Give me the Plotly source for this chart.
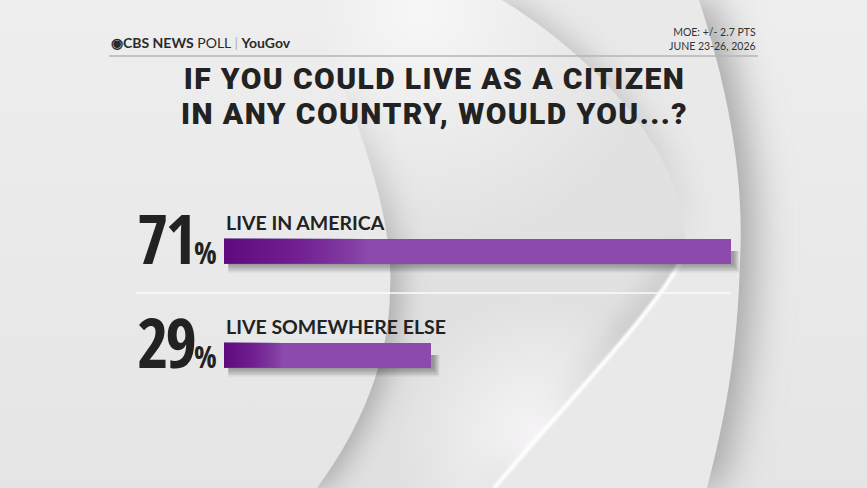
import base64
import plotly.graph_objects as go

# ---------------- data ----------------
categories = ["LIVE IN AMERICA", "LIVE SOMEWHERE ELSE"]
values = [71, 29]
pct_labels = ["71", "29"]
title_lines = ["IF YOU COULD LIVE AS A CITIZEN", "IN ANY COUNTRY, WOULD YOU...?"]
moe_text = "MOE: +/- 2.7 PTS"
date_text = "JUNE 23-26, 2026"

W, H = 867, 488

# ---------------- decorative background (CBS eye) ----------------
PA = "M0,0 L313,0 C345,100 395,200 390,290 C390,360 360,430 317,488 L0,488 Z"
PB = "M200,0 L502,0 C600,60 690,160 685,250 C675,290 560,410 494,488 L200,488 Z"
PC = "M0,0 L699,0 C725,80 745,170 740,260 C738,350 725,420 707,488 L0,488 Z"
PB_low = "M685,250 C675,290 560,410 494,488"

svg = f'''<svg xmlns="http://www.w3.org/2000/svg" width="{W}" height="{H}" viewBox="0 0 {W} {H}">
<defs>
<linearGradient id="bg" x1="0" y1="0" x2="0" y2="1">
 <stop offset="0" stop-color="#eeeeee"/><stop offset="1" stop-color="#e6e5e6"/>
</linearGradient>
<filter id="b14" x="-30%" y="-30%" width="160%" height="160%"><feGaussianBlur stdDeviation="14"/></filter>
<filter id="b20" x="-30%" y="-30%" width="160%" height="160%"><feGaussianBlur stdDeviation="20"/></filter>
<filter id="b2" x="-10%" y="-10%" width="120%" height="120%"><feGaussianBlur stdDeviation="1"/></filter>
<radialGradient id="glow" cx="540" cy="440" r="140" gradientUnits="userSpaceOnUse">
 <stop offset="0" stop-color="#f8f6f8" stop-opacity="1"/><stop offset="1" stop-color="#f8f6f8" stop-opacity="0"/>
</radialGradient>
<radialGradient id="topglow" cx="420" cy="10" r="240" gradientUnits="userSpaceOnUse">
 <stop offset="0" stop-color="#f7f7f7" stop-opacity="1"/><stop offset="1" stop-color="#f7f7f7" stop-opacity="0"/>
</radialGradient>
<linearGradient id="fadeDown" x1="0" y1="0" x2="0" y2="488" gradientUnits="userSpaceOnUse">
 <stop offset="0.15" stop-color="#fff" stop-opacity="0"/><stop offset="0.6" stop-color="#fff" stop-opacity="1"/>
</linearGradient>
<linearGradient id="fadeUp" x1="0" y1="0" x2="0" y2="488" gradientUnits="userSpaceOnUse">
 <stop offset="0.1" stop-color="#fff" stop-opacity="1"/><stop offset="0.55" stop-color="#fff" stop-opacity="0"/>
</linearGradient>
<mask id="mDown" maskUnits="userSpaceOnUse" x="0" y="0" width="{W}" height="{H}"><rect width="{W}" height="{H}" fill="url(#fadeDown)"/></mask>
<mask id="mUp" maskUnits="userSpaceOnUse" x="0" y="0" width="{W}" height="{H}"><rect width="{W}" height="{H}" fill="url(#fadeUp)"/></mask>
<clipPath id="cB"><path d="{PB}"/></clipPath>
<clipPath id="cC"><path d="{PC}"/></clipPath>
</defs>
<rect width="{W}" height="{H}" fill="url(#bg)"/>
<path d="{PC}" transform="translate(12,0)" fill="#a0a0a0" filter="url(#b20)"/>
<path d="{PC}" fill="#e9e9e9"/>
<g clip-path="url(#cC)" mask="url(#mUp)">
 <path d="{PB}" transform="translate(10,0)" fill="#c0c0c0" filter="url(#b14)"/>
</g>
<path d="{PB}" fill="#e1e1e1"/>
<g clip-path="url(#cB)">
 <circle cx="420" cy="10" r="240" fill="url(#topglow)"/>
 <path d="{PB_low}" stroke="#c6c6c6" stroke-width="26" fill="none" filter="url(#b14)"/>
 <circle cx="540" cy="440" r="140" fill="url(#glow)"/>
</g>
<path d="{PB_low}" stroke="#ffffff" stroke-width="4" fill="none" filter="url(#b2)"/>
<g mask="url(#mDown)">
 <path d="{PA}" transform="translate(10,0)" fill="#aaaaaa" filter="url(#b14)"/>
</g>
<path d="{PA}" fill="url(#bg)"/>
</svg>'''
bg_src = "data:image/svg+xml;base64," + base64.b64encode(svg.encode()).decode()

# ---------------- geometry ----------------
px_per_unit = 7.14
x_zero_px = 224
x_range = [-x_zero_px / px_per_unit, (W - x_zero_px) / px_per_unit]
row_px = 104
first_center_px = 251
y_range = [(H - first_center_px) / row_px, -first_center_px / row_px]
bar_w = 25 / row_px
ypos = list(range(len(categories)))

BAR_COLOR = "#8c4aac"
TXT = "#222222"

fig = go.Figure()
fig.add_trace(go.Bar(
    x=values, y=ypos, orientation="h", width=bar_w,
    marker=dict(color=BAR_COLOR, line=dict(width=0)),
    hoverinfo="skip", showlegend=False,
))

shapes = []
# soft shadows under the bars
for yi, v in zip(ypos, values):
    for k in range(6):
        ext = (k + 1) * 1.5 / row_px
        shapes.append(dict(type="rect", xref="x", yref="y", layer="below",
                           x0=0.6, x1=v + 0.4 + k * 0.15,
                           y0=yi, y1=yi + bar_w / 2 + ext,
                           fillcolor="rgba(40,40,40,0.08)", line=dict(width=0)))
# left-side darker gradient on bars
n = 40
for yi, v in zip(ypos, values):
    for k in range(n):
        shapes.append(dict(type="rect", xref="x", yref="y", layer="above",
                           x0=0, x1=0.28 * v * (k + 1) / n,
                           y0=yi - bar_w / 2, y1=yi + bar_w / 2,
                           fillcolor="rgba(88,8,130,0.032)", line=dict(width=0)))
# header rule and separator
shapes.append(dict(type="line", xref="paper", yref="paper",
                   x0=109 / W, x1=758 / W, y0=1 - 56 / H, y1=1 - 56 / H,
                   line=dict(color="#b4b4b4", width=1.5)))
shapes.append(dict(type="line", xref="paper", yref="paper",
                   x0=136 / W, x1=731 / W, y0=1 - 293 / H, y1=1 - 293 / H,
                   line=dict(color="#fbfbfb", width=1.5)))

annotations = []
# logo
annotations.append(dict(
    xref="paper", yref="paper", x=109 / W, y=1 - 42 / H, xanchor="left", yanchor="middle",
    text="<b>◉CBS NEWS</b> POLL <span style='color:#b0b0b0'>|</span> <b>YouGov</b>",
    showarrow=False, font=dict(family="Lato, sans-serif", size=14, color="#2a2a2a")))
# MOE + date
annotations.append(dict(
    xref="paper", yref="paper", x=758 / W, y=1 - 39 / H, xanchor="right", yanchor="middle",
    text=f"{moe_text}<br>{date_text}", showarrow=False, align="right",
    font=dict(family="Lato, sans-serif", size=10.5, color="#333")))
# title: one annotation, line spacing set via base font size, big glyphs via spans
title_html = "<br>".join(
    f"<span style='font-size:30px;letter-spacing:1.4px'>{t}</span>" for t in title_lines)
annotations.append(dict(
    xref="paper", yref="paper", x=434 / W, y=1 - 96 / H,
    xanchor="center", yanchor="middle", text=title_html, showarrow=False,
    font=dict(family="Roboto, Lato, sans-serif", size=27, color=TXT, weight=900)))
# category labels and big percentages
NUM_FONT = "Open Sans Condensed, Noto Sans, sans-serif"
for yi, cat, pl in zip(ypos, categories, pct_labels):
    annotations.append(dict(
        xref="x", yref="y", x=0, y=yi, xanchor="left", yanchor="bottom",
        xshift=0, yshift=bar_w * row_px / 2 + 3, text=cat, showarrow=False,
        font=dict(family="Lato, sans-serif", size=19.5, color=TXT, weight=700)))
    annotations.append(dict(
        xref="x", yref="y", x=0, y=yi, xanchor="left", yanchor="middle",
        xshift=-89, yshift=14, showarrow=False,
        text=(f"<span style='font-stretch:62.5%;letter-spacing:-3px'>{pl}</span>"
              f"<span style='font-size:30px;font-stretch:62.5%'>%</span>"),
        font=dict(family=NUM_FONT, size=68, color=TXT, weight=800)))

fig.update_layout(
    width=W, height=H, margin=dict(l=0, r=0, t=0, b=0),
    paper_bgcolor="#e9e9e9", plot_bgcolor="rgba(0,0,0,0)",
    xaxis=dict(range=x_range, visible=False, fixedrange=True),
    yaxis=dict(range=y_range, visible=False, fixedrange=True),
    shapes=shapes, annotations=annotations, bargap=0,
    images=[dict(source=bg_src, xref="paper", yref="paper", x=0, y=1, sizex=1, sizey=1,
                 xanchor="left", yanchor="top", sizing="stretch", layer="below")],
)

fig.write_html("out.html", config={"displayModeBar": False})
